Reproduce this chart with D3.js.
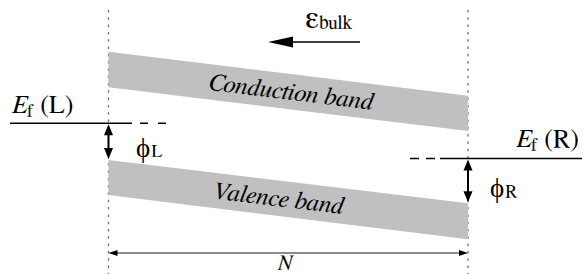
<!DOCTYPE html>
<html><head><meta charset="utf-8">
<script src="https://cdn.jsdelivr.net/npm/d3@7"></script>
<style>html,body{margin:0;padding:0;background:#fff;}svg{display:block;}
text{font-family:"FreeSerif","Liberation Serif",serif;}</style>
</head><body>
<svg id="c" width="585" height="274"></svg>
<script>
// Positions across the device (0 = left contact, 1 = right contact)
const positions = [0, 1];
// Band energies (arbitrary units) at left and right contacts
const conductionTop = [8.33, 6.57];
const conductionBottom = [6.91, 5.16];
const valenceTop = [4.00, 2.27];
const valenceBottom = [2.60, 0.83];
// Fermi levels: left, right
const fermiLevels = [5.47, 4.06];
const bandLabels = ["Conduction band", "Valence band"];

const svg = d3.select("#c");
const x = d3.scaleLinear().domain([0, 1]).range([108.5, 468]);
const y = d3.scaleLinear().domain([0, 10]).range([260, 10]);

// dotted vertical boundaries
positions.forEach(p => {
  svg.append("line").attr("x1", x(p)).attr("x2", x(p)).attr("y1", 10).attr("y2", 274)
    .attr("stroke", "#707070").attr("stroke-width", 1.3).attr("stroke-dasharray", "2.5,4.8");
});

// bands
function band(top, bottom, label, dx) {
  const pts = [[x(0), y(top[0])], [x(1), y(top[1])], [x(1), y(bottom[1])], [x(0), y(bottom[0])]];
  svg.append("path").attr("d", d3.line()(pts) + "Z").attr("fill", "#c0c0c0");
  const ang = Math.atan2(y(top[1]) - y(top[0]), x(1) - x(0)) * 180 / Math.PI;
  const cx = x(0.5) + dx;
  const t = (cx - x(0)) / (x(1) - x(0));
  const cy = (y(top[0]) + (y(top[1]) - y(top[0])) * t + y(bottom[0]) + (y(bottom[1]) - y(bottom[0])) * t) / 2;
  svg.append("text").attr("transform", `translate(${cx},${cy}) rotate(${ang})`)
    .attr("text-anchor", "middle").attr("dy", "0.32em")
    .attr("font-style", "italic").attr("font-size", 25)
    .attr("fill", "#000").text(label);
}
band(conductionTop, conductionBottom, bandLabels[0], 3);
band(valenceTop, valenceBottom, bandLabels[1], -10);

// Fermi levels
const yL = y(fermiLevels[0]), yR = y(fermiLevels[1]);
svg.append("line").attr("x1", 10).attr("x2", 132).attr("y1", yL).attr("y2", yL).attr("stroke", "#000").attr("stroke-width", 1.5);
svg.append("line").attr("x1", 140).attr("x2", 167).attr("y1", yL).attr("y2", yL).attr("stroke", "#000").attr("stroke-width", 1.5).attr("stroke-dasharray", "8,10");
svg.append("line").attr("x1", 440).attr("x2", 582).attr("y1", yR).attr("y2", yR).attr("stroke", "#000").attr("stroke-width", 1.5);
svg.append("line").attr("x1", 410).attr("x2", 436).attr("y1", yR).attr("y2", yR).attr("stroke", "#000").attr("stroke-width", 1.5).attr("stroke-dasharray", "9,7");

// double arrows
function dblArrow(xx, y1, y2) {
  const hl = 11, hw = 4.5;
  svg.append("line").attr("x1", xx).attr("x2", xx).attr("y1", y1 + hl - 1).attr("y2", y2 - hl + 1).attr("stroke", "#000").attr("stroke-width", 2);
  svg.append("path").attr("d", `M${xx},${y1}L${xx - hw},${y1 + hl}L${xx + hw},${y1 + hl}Z`).attr("fill", "#000");
  svg.append("path").attr("d", `M${xx},${y2}L${xx - hw},${y2 - hl}L${xx + hw},${y2 - hl}Z`).attr("fill", "#000");
}
dblArrow(x(0), yL + 1, y(valenceTop[0]) - 1);
dblArrow(x(1), yR + 1, y(valenceTop[1]) - 1);

// labels
function efLabel(xx, yy, sub, anchor) {
  const t = svg.append("text").attr("x", xx).attr("y", yy).attr("font-size", 26).attr("fill", "#000").attr("text-anchor", anchor);
  t.append("tspan").attr("font-style", "italic").text("E");
  t.append("tspan").attr("font-size", 18).attr("dy", 4).text("f");
  t.append("tspan").attr("dy", -4).text(" (" + sub + ")");
}
efLabel(12, 113, "L", "start");
efLabel(579, 147, "R", "end");

function phiLabel(xx, yy, sub) {
  const t = svg.append("text").attr("x", xx).attr("y", yy).attr("font-size", 27).attr("fill", "#000");
  t.append("tspan").style("font-family", "'Liberation Serif'").text("\u03D5");
  t.append("tspan").attr("font-size", 18).attr("dx", 1).text(sub);
}
phiLabel(136, 157, "L");
phiLabel(490, 197, "R");

// bulk field arrow
svg.append("line").attr("x1", 292).attr("x2", 360).attr("y1", 42).attr("y2", 42).attr("stroke", "#000").attr("stroke-width", 1.5);
svg.append("path").attr("d", "M268,42L293,36.5L293,47.5Z").attr("fill", "#000");
const eb = svg.append("text").attr("x", 305).attr("y", 28).attr("font-size", 33).attr("fill", "#000");
eb.append("tspan").text("\u03B5");
eb.append("tspan").attr("font-size", 19).attr("dy", 1).text("bulk");

// N width arrow
const yN = 253;
svg.append("line").attr("x1", x(0) + 6).attr("x2", x(1) - 6).attr("y1", yN).attr("y2", yN).attr("stroke", "#666").attr("stroke-width", 1.5);
svg.append("path").attr("d", `M${x(0)},${yN}L${x(0) + 9},${yN - 3}L${x(0) + 9},${yN + 3}Z`).attr("fill", "#000");
svg.append("path").attr("d", `M${x(1)},${yN}L${x(1) - 9},${yN - 3}L${x(1) - 9},${yN + 3}Z`).attr("fill", "#000");
svg.append("text").attr("x", 285).attr("y", 270).attr("text-anchor", "middle")
  .attr("font-style", "italic").attr("font-size", 22).attr("fill", "#000").text("N");
</script>
</body></html>
